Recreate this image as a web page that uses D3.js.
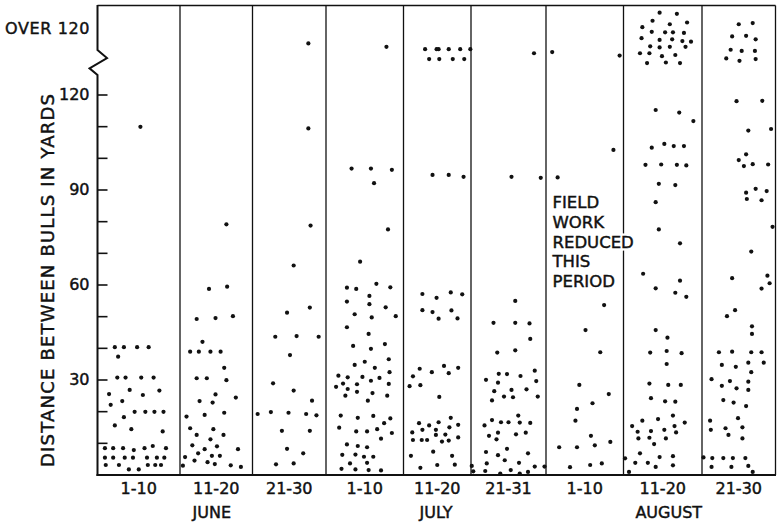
<!DOCTYPE html>
<html><head><meta charset="utf-8">
<script src="https://cdn.jsdelivr.net/npm/d3@7"></script>
<style>
html,body{margin:0;padding:0;background:#fff;}
svg{display:block;font-family:"DejaVu Sans",sans-serif;}
</style></head>
<body>
<svg id="c" width="777" height="525"></svg>
<script>
// ---------- DATA ----------
const periods = ["1-10","11-20","21-30","1-10","11-20","21-31","1-10","11-20","21-30"];
const months = ["JUNE","JULY","AUGUST"];
const monthPanels = [[0,2],[3,5],[6,8]];
const majorTicks = [30,60,90,120];
const minorTicks = [10,20,40,50,70,80,100,110];
const note = ["FIELD","WORK","REDUCED","THIS","PERIOD"];
// each dot: [position within the 10-day period (0-1), distance in yards]
const jun1 = [[.21,40.2],[.32,40.2],[.48,40.2],[.62,40.2],[.25,37.2],[.24,30.6],[.34,30.6],[.53,30.6],[.68,30.6],[.39,26.7],[.75,26.5],[.14,25.4],[.55,25.1],[.30,23.2],[.16,22],[.45,19.8],[.58,19.8],[.69,19.8],[.80,19.8],[.32,18.1],[.21,15.5],[.41,14.3],[.79,13.6],[.67,9],[.09,8.3],[.19,8.3],[.31,8.3],[.44,7.7],[.57,8.3],[.83,8.3],[.09,5.3],[.19,5.3],[.33,5.3],[.43,5.3],[.60,5.3],[.72,5.3],[.81,5.3],[.10,3],[.26,3],[.61,3],[.70,3],[.77,3],[.38,1.6],[.50,1.6],[.52,109.8]];
const jun2 = [[.31,41.9],[.14,38.8],[.26,38.8],[.42,38.8],[.56,38.8],[.61,33.7],[.23,30.4],[.37,30.4],[.64,29.8],[.49,25.3],[.77,24.3],[.27,23.2],[.45,22.7],[.61,19.5],[.34,18.8],[.09,18.3],[.14,14.6],[.46,14.3],[.23,12.5],[.60,12.5],[.42,11.1],[.17,9.2],[.51,8.9],[.34,8],[.80,8],[.25,6.7],[.44,5.9],[.55,5.9],[.07,5.5],[.20,4.4],[.38,3.9],[.48,3.3],[.70,2.9],[.84,2.4],[.04,2.8],[.64,79],[.40,58.6],[.65,59.3],[.23,49.1],[.49,49.4],[.73,50]];
const jun3 = [[.76,109.3],[.79,78.6],[.56,66],[.47,51.1],[.78,52.7],[.31,43.5],[.60,43.7],[.90,43.5],[.51,37.7],[.28,28.8],[.56,26.5],[.81,23.3],[.07,19.1],[.25,19.7],[.49,19.5],[.73,19.1],[.87,18.7],[.40,13.8],[.78,13.8],[.47,8.1],[.69,6.7],[.32,3.2],[.56,3.5]];
const jul1 = [[.33,96.6],[.58,96.6],[.85,96.2],[.62,92],[.80,77.4],[.44,67.2],[.27,59],[.39,58.6],[.65,60.2],[.83,59.1],[.56,56.4],[.27,54.6],[.56,53.8],[.77,52.8],[.37,50.6],[.59,49.6],[.90,50],[.27,46.5],[.55,44.4],[.35,40.6],[.58,39.7],[.76,41.2],[.81,36.4],[.50,35.6],[.37,34.6],[.63,33.7],[.82,32.3],[.16,31.2],[.28,30.7],[.47,30.8],[.69,30.5],[.58,29.6],[.22,28.7],[.40,28.5],[.81,28.6],[.13,27.7],[.28,27],[.40,26.1],[.60,25.7],[.25,24.9],[.79,24.9],[.54,23.3],[.19,18.6],[.41,17.9],[.61,18.5],[.83,17.7],[.17,14.8],[.75,16.2],[.39,13.6],[.53,13.6],[.66,14.3],[.85,13.1],[.71,11.3],[.27,9.5],[.41,9],[.53,8.6],[.21,6.2],[.38,6.3],[.49,5.6],[.61,5.6],[.31,3.5],[.53,3.7],[.20,1.8],[.38,1.6],[.55,1.4],[.71,1.3]];
const jul2 = [[.43,94.6],[.67,94.6],[.89,94],[.28,57],[.70,57.5],[.87,56.9],[.49,55.8],[.28,51.9],[.43,51.3],[.71,51.8],[.52,49.2],[.80,49.3],[.24,33.4],[.60,34.3],[.81,33.7],[.42,32.3],[.67,32],[.14,31],[.09,27.9],[.25,28.2],[.53,24.5],[.23,16.2],[.38,15.5],[.52,16.5],[.70,17.9],[.81,15.7],[.13,13.3],[.28,14.1],[.48,14.1],[.68,14.9],[.48,12.5],[.62,12.6],[.14,10.9],[.27,10.9],[.35,10.9],[.57,10.4],[.67,10.7],[.81,11.7],[.11,5.9],[.44,7.2],[.72,5.9],[.25,2.1],[.50,3],[.76,3.1]];
const jul3 = [[.54,94],[.93,93.7],[.59,54.8],[.30,47.9],[.59,47.9],[.78,47.7],[.79,42.8],[.35,38.5],[.59,39.2],[.37,31.8],[.48,31.7],[.66,31.1],[.85,32.8],[.20,29.9],[.36,29],[.87,29.5],[.31,26.3],[.54,26.7],[.74,26.9],[.44,24.6],[.56,24.4],[.28,23.4],[.89,24.6],[.63,18.6],[.28,17.2],[.40,16.5],[.50,16.5],[.65,16.4],[.79,16.3],[.18,15.5],[.36,13.2],[.60,12.7],[.73,13.2],[.24,12.2],[.34,11.1],[.48,8.1],[.20,7.1],[.36,6.1],[.76,6.7],[.45,4.5],[.64,3.7],[.85,2.5],[.21,3.5],[.01,2.7],[.03,1],[.19,1.1],[.39,0.3],[.53,1.4],[.65,0.3],[.76,0.8],[.98,2.5]];
const aug1 = [[.87,102.5],[.15,93.8],[.75,53.5],[.51,45.6],[.70,38.6],[.43,28.3],[.81,25.4],[.60,22.5],[.40,20.7],[.38,17],[.58,12.2],[.83,10.3],[.63,9.2],[.17,8.6],[.40,8.6],[.31,2.3],[.57,3],[.72,3.5]];
const aug2 = [[.41,115.1],[.71,114.3],[.89,111.6],[.36,103.2],[.52,104.4],[.64,103.7],[.77,103.7],[.28,97.8],[.48,97.9],[.68,97.8],[.80,97.6],[.45,91.8],[.66,91.4],[.41,86],[.45,77.4],[.72,73],[.25,63.4],[.72,61.2],[.41,58.8],[.66,57.4],[.80,56.1],[.41,45.6],[.56,43.2],[.34,38.5],[.55,39],[.74,38.3],[.55,34.9],[.33,28.7],[.57,28.3],[.73,28.3],[.35,24.1],[.53,23.1],[.66,23],[.63,18.6],[.24,17],[.44,17.5],[.78,16.4],[.11,15.3],[.65,15.3],[.18,13.5],[.35,13.7],[.52,14.1],[.67,13.3],[.19,11.4],[.33,11.6],[.54,11.4],[.39,9.6],[.21,6.7],[.46,5.5],[.63,5.8],[.02,5.1],[.15,3.7],[.31,3.7],[.41,2.4],[.63,2.9],[.07,0.8]];
const aug3 = [[.47,117.9],[.82,118],[.63,108.6],[.94,109.1],[.60,101.1],[.50,99.3],[.69,98],[.57,97.4],[.90,97.9],[.60,89],[.73,90.2],[.88,89.5],[.61,87],[.81,86.6],[.96,78.2],[.67,70.4],[.41,62],[.89,62.8],[.92,60.4],[.81,58.7],[.45,51.9],[.34,50],[.68,46.8],[.68,44.4],[.23,38.6],[.41,38.8],[.67,38.6],[.81,38.6],[.27,34.6],[.46,34],[.63,35.3],[.84,35.3],[.67,32.3],[.13,30.1],[.38,29.5],[.27,28],[.63,29.3],[.47,27.2],[.63,26.7],[.29,23.5],[.43,22.7],[.60,21.6],[.49,17.8],[.11,17],[.32,14.6],[.12,14.1],[.55,14.9],[.36,12.5],[.55,11.4],[.02,5.4],[.14,5.2],[.29,5.2],[.42,5.2],[.59,5.2],[.13,2.4],[.40,2.4],[.63,2.7],[.69,0.8]];
// "over 120" dots: [position within period, vertical spread in the over-120 band (0-1)]
const jun1Over = [];
const jun2Over = [];
const jun3Over = [[.76,.39]];
const jul1Over = [[.78,.33]];
const jul2Over = [[.32,.29],[.49,.29],[.52,.29],[.67,.29],[.84,.29],[.99,.29],[.38,.12],[.53,.12],[.73,.12],[.90,.12]];
const jul3Over = [[.84,.22]];
const aug1Over = [[.08,.24],[.95,.18]];
const aug2Over = [[.46,.92],[.68,.90],[.37,.78],[.81,.75],[.59,.72],[.24,.67],[.36,.59],[.53,.58],[.63,.58],[.77,.57],[.23,.48],[.46,.45],[.62,.46],[.75,.43],[.86,.42],[.34,.34],[.46,.32],[.59,.33],[.79,.33],[.21,.22],[.33,.22],[.49,.17],[.66,.19],[.30,.05],[.54,.06],[.72,.05]];
const aug3Over = [[.50,.72],[.69,.74],[.41,.51],[.60,.52],[.73,.46],[.39,.28],[.54,.26],[.72,.26],[.33,.13],[.51,.09],[.73,.12]];

// ---------- LAYOUT ----------
const svg = d3.select("#c");
const edges = [97.5,180,252.5,326,403.5,471,546,623.5,702,775.5];
const topY = 5.5, baseY = 475;
const x = d3.scaleLinear().domain(d3.range(edges.length)).range(edges);
const y = d3.scaleLinear().domain([0,120]).range([474.5, 94.5]);
const yOver = d3.scaleLinear().domain([0,1]).range([66, 8]);
const ink = "#111";
const bold = s => s.attr("stroke",ink).attr("stroke-width",0.45);

const panels = [jun1,jun2,jun3,jul1,jul2,jul3,aug1,aug2,aug3];
const overs = [jun1Over,jun2Over,jun3Over,jul1Over,jul2Over,jul3Over,aug1Over,aug2Over,aug3Over];

// frame: top border, dividers
svg.append("line").attr("x1",x(0)).attr("x2",x(9)).attr("y1",topY).attr("y2",topY)
  .attr("stroke",ink).attr("stroke-width",1.4);
svg.selectAll("line.div").data(d3.range(1,10)).join("line").attr("class","div")
  .attr("x1",d=>x(d)).attr("x2",d=>x(d)).attr("y1",topY).attr("y2",baseY)
  .attr("stroke",ink).attr("stroke-width",1.3);

// y axis ticks & labels (ticks point inward)
const yAxis = d3.axisLeft(y)
  .tickValues(majorTicks.concat(minorTicks))
  .tickSizeInner(-10).tickSizeOuter(0).tickPadding(9)
  .tickFormat(d => majorTicks.includes(d) ? String(d) : "");
const gy = svg.append("g").attr("transform",`translate(${x(0)},0)`).call(yAxis);
gy.select(".domain").remove();
gy.selectAll(".tick line").attr("stroke",ink).attr("stroke-width",1.6);
gy.selectAll(".tick text").attr("fill",ink).attr("font-size",16)
  .attr("font-family","DejaVu Sans, sans-serif").attr("x",-8).call(bold);

// spine with break zigzag
const sx = x(0);
svg.append("path")
  .attr("d",`M${sx},${topY-0.5} L${sx},50 L${sx+9.5},58 L${sx-8},68.3 L${sx},75 L${sx},${baseY+1}`)
  .attr("fill","none").attr("stroke",ink).attr("stroke-width",2).attr("stroke-linejoin","miter");
// bottom axis line
svg.append("line").attr("x1",sx-1).attr("x2",x(9)+0.5).attr("y1",baseY).attr("y2",baseY)
  .attr("stroke",ink).attr("stroke-width",2);

svg.append("text").attr("x",90).attr("y",28).attr("text-anchor","end")
  .attr("dominant-baseline","central").attr("font-size",16).attr("fill",ink)
  .attr("letter-spacing",0.6).text("OVER 120").call(bold);

// y title
svg.append("text").attr("transform","translate(47.5,280.5) rotate(-90)")
  .attr("text-anchor","middle").attr("dominant-baseline","central")
  .attr("font-size",18).attr("fill",ink)
  .attr("textLength",373).attr("lengthAdjust","spacing")
  .text("DISTANCE BETWEEN BULLS IN YARDS").call(bold);

// period labels
svg.selectAll("text.per").data(periods).join("text").attr("class","per")
  .attr("x",(d,i)=>x(i+0.5)).attr("y",494).attr("text-anchor","middle")
  .attr("font-size",16).attr("fill",ink).text(d=>d).call(bold);
svg.selectAll("text.mon").data(months).join("text").attr("class","mon")
  .attr("x",(d,i)=>(x(monthPanels[i][0]) + x(monthPanels[i][1]+1))/2 + (i===2?8:0)).attr("y",518)
  .attr("text-anchor","middle").attr("font-size",16).attr("fill",ink).text(d=>d).call(bold);

// note text in Aug 1-10 panel (white halo breaks the divider line)
const noteG = svg.append("g");
noteG.selectAll("text.halo").data(note).join("text").attr("class","halo")
  .attr("x",x(6)+6.5).attr("y",(d,i)=>208+i*19.8)
  .attr("font-size",16.5).attr("fill","#fff")
  .attr("stroke","#fff").attr("stroke-width",5).text(d=>d);
noteG.selectAll("text.ink").data(note).join("text").attr("class","ink")
  .attr("x",x(6)+6.5).attr("y",(d,i)=>208+i*19.8)
  .attr("font-size",16.5).attr("fill",ink).text(d=>d).call(bold);

// dots
panels.forEach((pts,i)=>{
  svg.append("g").selectAll("circle").data(pts).join("circle")
    .attr("cx",d=>x(i+d[0])).attr("cy",d=>y(d[1])).attr("r",2.1).attr("fill",ink);
});
overs.forEach((pts,i)=>{
  svg.append("g").selectAll("circle").data(pts).join("circle")
    .attr("cx",d=>x(i+d[0])).attr("cy",d=>yOver(d[1])).attr("r",2.1).attr("fill",ink);
});
</script>
</body></html>
